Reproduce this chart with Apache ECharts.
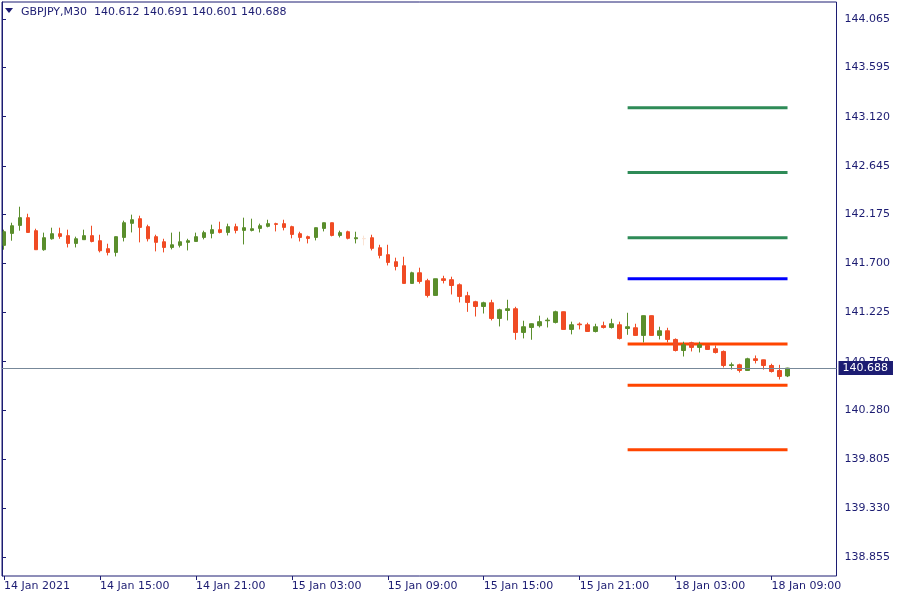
<!DOCTYPE html>
<html>
<head>
<meta charset="utf-8">
<script src="https://cdn.jsdelivr.net/npm/echarts@6/dist/echarts.min.js"></script>
<style>html,body{margin:0;padding:0;background:#fff}#c{width:900px;height:600px}</style>
</head>
<body>
<div id="c"></div>
<script>
const symbolName = 'GBPJPY,M30';
const categories = [
'14 Jan 09:00','14 Jan 09:30','14 Jan 10:00','14 Jan 10:30','14 Jan 11:00','14 Jan 11:30','14 Jan 12:00','14 Jan 12:30','14 Jan 13:00','14 Jan 13:30',
'14 Jan 14:00','14 Jan 14:30','14 Jan 15:00','14 Jan 15:30','14 Jan 16:00','14 Jan 16:30','14 Jan 17:00','14 Jan 17:30','14 Jan 18:00','14 Jan 18:30',
'14 Jan 19:00','14 Jan 19:30','14 Jan 20:00','14 Jan 20:30','14 Jan 21:00','14 Jan 21:30','14 Jan 22:00','14 Jan 22:30','14 Jan 23:00','14 Jan 23:30',
'15 Jan 00:00','15 Jan 00:30','15 Jan 01:00','15 Jan 01:30','15 Jan 02:00','15 Jan 02:30','15 Jan 03:00','15 Jan 03:30','15 Jan 04:00','15 Jan 04:30',
'15 Jan 05:00','15 Jan 05:30','15 Jan 06:00','15 Jan 06:30','15 Jan 07:00','15 Jan 07:30','15 Jan 08:00','15 Jan 08:30','15 Jan 09:00','15 Jan 09:30',
'15 Jan 10:00','15 Jan 10:30','15 Jan 11:00','15 Jan 11:30','15 Jan 12:00','15 Jan 12:30','15 Jan 13:00','15 Jan 13:30','15 Jan 14:00','15 Jan 14:30',
'15 Jan 15:00','15 Jan 15:30','15 Jan 16:00','15 Jan 16:30','15 Jan 17:00','15 Jan 17:30','15 Jan 18:00','15 Jan 18:30','15 Jan 19:00','15 Jan 19:30',
'15 Jan 20:00','15 Jan 20:30','15 Jan 21:00','15 Jan 21:30','15 Jan 22:00','15 Jan 22:30','15 Jan 23:00','15 Jan 23:30',
'18 Jan 00:00','18 Jan 00:30','18 Jan 01:00','18 Jan 01:30','18 Jan 02:00','18 Jan 02:30','18 Jan 03:00','18 Jan 03:30','18 Jan 04:00','18 Jan 04:30',
'18 Jan 05:00','18 Jan 05:30','18 Jan 06:00','18 Jan 06:30','18 Jan 07:00','18 Jan 07:30','18 Jan 08:00','18 Jan 08:30','18 Jan 09:00','18 Jan 09:30',
'18 Jan 10:00'
];
const xTickLabels = ['14 Jan 2021','14 Jan 15:00','14 Jan 21:00','15 Jan 03:00','15 Jan 09:00','15 Jan 15:00','15 Jan 21:00','18 Jan 03:00','18 Jan 09:00'];
const yTickLabels = [144.065,143.595,143.120,142.645,142.175,141.700,141.225,140.750,140.280,139.805,139.330,138.855];

const opens = [141.875,141.991,142.068,142.143,142.017,141.833,141.939,141.988,141.969,141.894,
141.930,141.969,141.920,141.843,141.807,141.952,142.088,142.133,142.056,141.959,
141.910,141.855,141.875,141.904,141.913,141.952,141.991,142.027,142.000,142.056,
142.020,142.020,142.039,142.059,142.085,142.085,142.056,141.988,141.959,141.952,
142.039,142.094,141.971,142.007,141.939,141.942,141.949,141.852,141.785,141.717,
141.678,141.507,141.610,141.533,141.391,141.552,141.543,141.494,141.388,141.330,
141.284,141.320,141.168,141.245,141.262,141.033,141.081,141.098,141.146,141.130,
141.233,141.062,141.114,141.107,141.042,141.098,141.081,141.107,141.071,141.078,
141.004,141.195,141.004,141.049,140.965,140.858,140.933,140.888,140.907,140.875,
140.849,140.713,140.720,140.665,140.778,140.768,140.713,140.665,140.612];
const closes = [142.007,142.065,142.143,142.000,141.833,141.949,141.988,141.962,141.894,141.939,
141.969,141.913,141.823,141.807,141.959,142.094,142.123,142.049,141.939,141.904,
141.855,141.881,141.910,141.920,141.959,141.998,142.027,142.000,142.056,142.020,
142.046,142.036,142.065,142.085,142.078,142.049,141.981,141.952,141.942,142.046,
142.094,141.971,141.998,141.943,141.949,141.939,141.846,141.778,141.710,141.671,
141.507,141.610,141.526,141.391,141.552,141.536,141.487,141.381,141.323,141.284,
141.320,141.168,141.252,141.262,141.033,141.088,141.117,141.137,141.152,141.233,
141.062,141.107,141.107,141.042,141.088,141.081,141.117,140.975,141.088,141.004,
141.195,141.004,141.049,140.965,140.858,140.913,140.888,140.913,140.868,140.839,
140.713,140.720,140.665,140.778,140.762,140.713,140.655,140.607,140.688];
const lows = [141.833,141.920,142.017,141.997,141.831,141.823,141.930,141.939,141.855,141.855,
141.928,141.904,141.807,141.778,141.768,141.913,142.000,141.904,141.913,141.817,
141.807,141.836,141.855,141.826,141.912,141.933,141.943,141.991,141.971,141.991,
141.884,142.010,142.000,142.049,142.010,142.020,141.943,141.913,141.894,141.923,
142.010,141.962,141.952,141.933,141.894,141.875,141.826,141.749,141.681,141.633,
141.505,141.505,141.505,141.371,141.390,141.507,141.400,141.323,141.232,141.187,
141.216,141.149,141.091,141.149,140.962,140.975,140.962,141.081,141.081,141.120,
141.060,141.014,141.062,141.040,141.033,141.071,141.071,140.965,141.010,141.002,
140.936,141.002,140.965,140.936,140.849,140.800,140.849,140.839,140.866,140.829,
140.694,140.674,140.645,140.663,140.733,140.674,140.645,140.578,140.601];
const highs = [142.027,142.094,142.249,142.181,142.036,141.998,142.046,142.046,142.027,141.959,
142.027,142.065,141.978,141.891,141.962,142.114,142.172,142.162,142.075,141.978,
141.939,141.998,142.007,141.939,141.998,142.017,142.075,142.104,142.085,142.085,
142.143,142.133,142.085,142.123,142.094,142.123,142.065,142.007,141.969,142.048,
142.096,142.096,142.017,142.017,142.007,141.969,141.978,141.881,141.881,141.756,
141.765,141.620,141.659,141.552,141.553,141.581,141.572,141.507,141.426,141.339,
141.330,141.349,141.262,141.349,141.281,141.146,141.120,141.195,141.175,141.243,
141.235,141.137,141.130,141.127,141.117,141.137,141.165,141.137,141.223,141.117,
141.197,141.197,141.088,141.078,140.975,140.943,140.943,140.943,140.909,140.907,
140.858,140.742,140.730,140.788,140.810,140.770,140.730,140.720,140.691];
const paleCandleIndex = 45;

const greenLevels = [143.205, 142.579, 141.949];
const blueLevels = [141.552];
const orangeLevels = [140.920, 140.523, 139.897];
const levelStartIndex = 78;
const levelEndIndex = 98;
const bidPrice = 140.688;

const NAVY = '#1c1c72';
const UP = '#5a8e2c';
const DOWN = '#f04b24';
const FONT = '"DejaVu Sans", Verdana, sans-serif';
const Y_MIN = 138.677, Y_MAX = 144.229;
const TOTAL_SLOTS = 104;

const xCats = categories.slice();
while (xCats.length < TOTAL_SLOTS) xCats.push('');

const candleData = opens.map((o, i) => {
  const item = { value: [o, closes[i], lows[i], highs[i]] };
  if (i === paleCandleIndex) {
    item.itemStyle = { color: '#fbe3d4', color0: '#fbe3d4', borderColor: '#fbe3d4', borderColor0: '#fbe3d4' };
  }
  return item;
});

function levelSeries(lv, color) {
  return {
    type: 'line', xAxisIndex: 0, yAxisIndex: 0, silent: true, symbol: 'none',
    lineStyle: { color: color, width: 3 }, z: 3,
    data: [[categories[levelStartIndex], lv], [categories[levelEndIndex], lv]]
  };
}

const series = [
  {
    type: 'line', xAxisIndex: 1, yAxisIndex: 1, data: [], silent: true, z: 1,
    markLine: {
      silent: true, symbol: 'none', animation: false,
      lineStyle: { color: '#778899', width: 1, type: 'solid' },
      label: {
        show: true, position: 'end', distance: 2, formatter: bidPrice.toFixed(3),
        color: '#ffffff', backgroundColor: NAVY, fontFamily: FONT, fontSize: 11,
        padding: [2, 5, 1, 4]
      },
      data: [{ yAxis: bidPrice }]
    }
  },
  {
    type: 'candlestick', xAxisIndex: 0, yAxisIndex: 0, z: 4,
    barWidth: 4,
    itemStyle: { color: UP, color0: DOWN, borderColor: UP, borderColor0: DOWN, borderWidth: 1 },
    data: candleData
  }
];
greenLevels.forEach(v => series.push(levelSeries(v, '#2e8b57')));
blueLevels.forEach(v => series.push(levelSeries(v, '#0000ff')));
orangeLevels.forEach(v => series.push(levelSeries(v, '#ff4500')));

const labelEvery = 12;
const showTick = (idx) => idx % labelEvery === 0 && idx < categories.length;

const header = symbolName + '  ' + [opens[98], highs[98], lows[98], closes[98]].map(v => v.toFixed(3)).join(' ');

const chart = echarts.init(document.getElementById('c'), null, { renderer: 'canvas' });
chart.setOption({
  animation: false,
  backgroundColor: '#ffffff',
  grid: [
    { left: -0.5, width: 832, top: 2, bottom: 24, show: false },
    { left: 2, right: 63.5, top: 2, bottom: 24, show: true, borderColor: NAVY, borderWidth: 1, backgroundColor: 'transparent', z: 5 }
  ],
  xAxis: [
    {
      type: 'category', gridIndex: 0, data: xCats, boundaryGap: true,
      axisLine: { show: false },
      axisTick: { show: true, alignWithLabel: true, interval: showTick, length: 4, lineStyle: { color: NAVY } },
      axisLabel: {
        show: true, interval: showTick, align: 'left', margin: 5,
        color: NAVY, fontFamily: FONT, fontSize: 11,
        formatter: (v, idx) => xTickLabels[idx / labelEvery] || ''
      },
      splitLine: { show: false }
    },
    { type: 'value', gridIndex: 1, min: 0, max: 1, show: false }
  ],
  yAxis: [
    { type: 'value', gridIndex: 0, min: Y_MIN, max: Y_MAX, show: false, scale: true },
    {
      type: 'value', gridIndex: 1, position: 'right', min: Y_MIN, max: Y_MAX, scale: true,
      axisLine: { show: true, lineStyle: { color: NAVY } },
      axisTick: { show: true, length: 4, customValues: yTickLabels, lineStyle: { color: NAVY } },
      axisLabel: {
        show: true, customValues: yTickLabels, margin: 8, color: NAVY, fontFamily: FONT, fontSize: 11,
        formatter: v => Number(v).toFixed(3)
      },
      splitLine: { show: false }
    }
  ],
  graphic: [
    { type: 'polygon', shape: { points: [[5, 8], [13, 8], [9, 13]] }, style: { fill: NAVY }, z: 10 },
    { type: 'text', x: 21, y: 7, style: { text: header, font: '11px ' + FONT, fill: NAVY }, z: 10 }
  ],
  series: series
});
</script>
</body>
</html>
